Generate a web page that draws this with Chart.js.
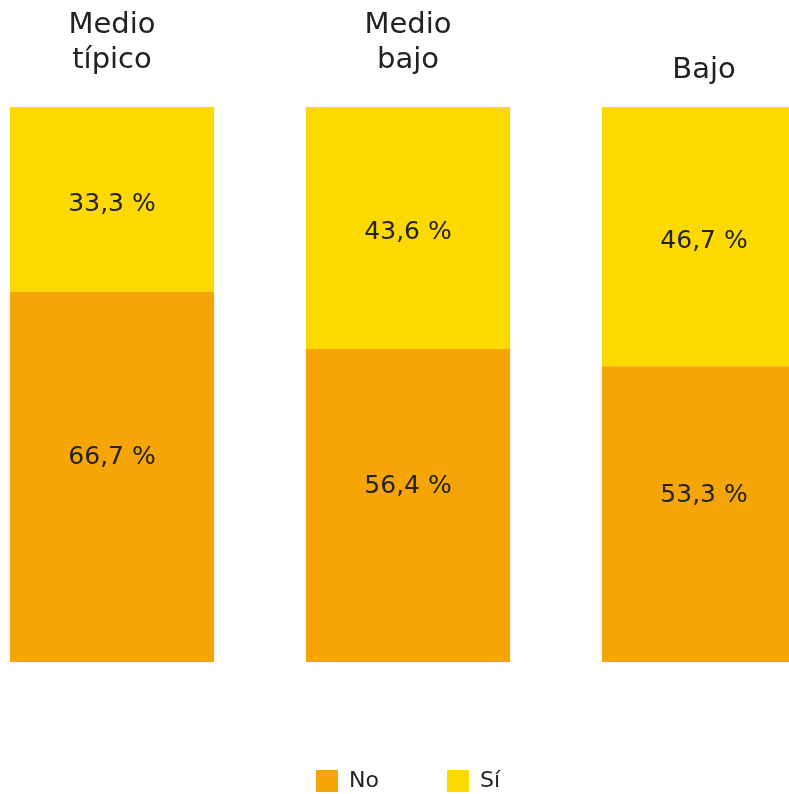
<!DOCTYPE html>
<html>
<head>
<meta charset="utf-8">
<script src="https://cdn.jsdelivr.net/npm/chart.js@4.4.1/dist/chart.umd.min.js"></script>
<style>
  html, body { margin: 0; padding: 0; background: #fff; overflow: hidden; }
  #wrap { position: relative; width: 789px; height: 794px; overflow: hidden; }
  #chart { position: absolute; left: -36px; top: 0; }
</style>
</head>
<body>
<div id="wrap"><canvas id="chart" width="888" height="802"></canvas></div>
<script>
// stacked shares per socio-economic level
const categories = [['Medio', 'típico'], ['Medio', 'bajo'], ['Bajo']];
const noValues = [66.7, 56.4, 53.3];
const siValues = [33.3, 43.6, 46.7];
const seriesNames = ['No', 'Sí'];

const FONT = '"DejaVu Sans", "Noto Sans", sans-serif';
const TEXT = '#222222';

// category names above each bar
const topLabels = {
    id: 'topLabels',
    afterDraw(chart) {
        const ctx = chart.ctx;
        const x = chart.scales.x;
        ctx.save();
        ctx.font = '29px ' + FONT;
        ctx.fillStyle = TEXT;
        ctx.textAlign = 'center';
        ctx.textBaseline = 'middle';
        categories.forEach((lines, i) => {
            const cx = x.getPixelForValue(i);
            if (lines.length === 1) {
                ctx.fillText(lines[0], cx, 70);
            } else {
                lines.forEach((t, j) => ctx.fillText(t, cx, 25 + j * 35));
            }
        });
        ctx.restore();
    }
};

// percentage inside each segment
const valueLabels = {
    id: 'valueLabels',
    afterDatasetsDraw(chart) {
        const ctx = chart.ctx;
        ctx.save();
        ctx.font = '25px ' + FONT;
        ctx.fillStyle = TEXT;
        ctx.textAlign = 'center';
        ctx.textBaseline = 'middle';
        chart.data.datasets.forEach((ds, di) => {
            const meta = chart.getDatasetMeta(di);
            const shift = di === 0 ? -19 : 5;
            meta.data.forEach((bar, i) => {
                const v = ds.data[i];
                const y = (bar.y + bar.base) / 2 + shift;
                ctx.fillText(v.toFixed(1).replace('.', ',') + ' %', bar.x, y);
            });
        });
        ctx.restore();
    }
};

new Chart(document.getElementById('chart'), {
    type: 'bar',
    data: {
        labels: categories,
        datasets: [
            { label: seriesNames[0], data: noValues, backgroundColor: '#F5A508', borderWidth: 0 },
            { label: seriesNames[1], data: siValues, backgroundColor: '#FCD900', borderWidth: 0 }
        ]
    },
    options: {
        responsive: false,
        animation: false,
        devicePixelRatio: 1,
        categoryPercentage: 1,
        barPercentage: 0.69,
        layout: { padding: { top: 107, bottom: 0, left: 0, right: 0 } },
        scales: {
            x: { stacked: true, display: false },
            y: { stacked: true, display: false, min: 0, max: 100 }
        },
        plugins: {
            tooltip: { enabled: false },
            legend: {
                position: 'bottom',
                title: { display: true, text: '', font: { size: 10 }, padding: { top: 28, bottom: 0 } },
                labels: {
                    boxWidth: 22,
                    boxHeight: 22,
                    padding: 68,
                    color: TEXT,
                    font: { family: FONT, size: 22 }
                }
            }
        }
    },
    plugins: [topLabels, valueLabels]
});
</script>
</body>
</html>
